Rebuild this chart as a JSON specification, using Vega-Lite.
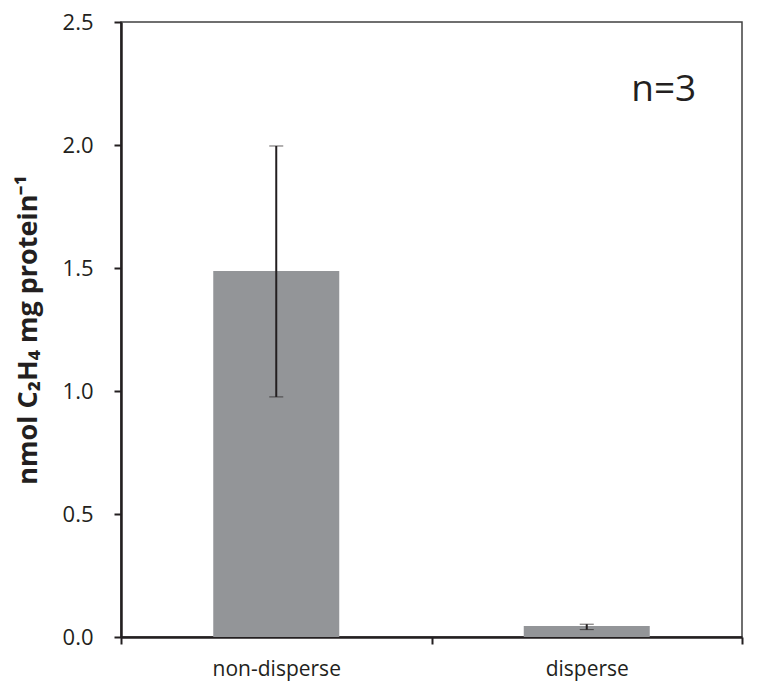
{
  "$schema": "https://vega.github.io/schema/vega-lite/v6.json",
  "autosize": "none",
  "width": 621,
  "height": 615,
  "padding": {"left": 121, "top": 22, "right": 17, "bottom": 61},
  "background": "white",
  "config": {
    "view": {"stroke": "#404040", "strokeWidth": 1.5},
    "font": "Open Sans",
    "axis": {
      "domainColor": "#231f20", "domainWidth": 2.5,
      "tickColor": "#231f20", "tickWidth": 2, "tickSize": 7,
      "labelColor": "#231f20", "labelFont": "Open Sans",
      "titleFontSize": 27, "titleFontWeight": "bold", "titleColor": "#231f20", "titleFont": "Open Sans",
      "grid": false
    }
  },
  "data": {
    "values": [
      {"group": "non-disperse", "value": 1.488, "low": 0.976, "high": 1.996},
      {"group": "disperse", "value": 0.045, "low": 0.03, "high": 0.052}
    ]
  },
  "encoding": {
    "x": {
      "field": "group", "type": "nominal", "sort": null, "title": null,
      "scale": {"paddingInner": 0, "paddingOuter": 0},
      "axis": {"labelAngle": 0, "tickBand": "extent", "labelPadding": 14, "labelFontSize": 21}
    }
  },
  "layer": [
    {
      "mark": {"type": "bar", "color": "#939598", "width": 126},
      "encoding": {
        "y": {
          "field": "value", "type": "quantitative",
          "title": "nmol C₂H₄ mg protein⁻¹",
          "scale": {"domain": [0, 2.5], "nice": false},
          "axis": {
            "titlePadding": 20,
            "values": [0, 0.5, 1, 1.5, 2, 2.5], "format": ".1f",
            "labelPadding": 21, "labelFontSize": 22
          }
        }
      }
    },
    {
      "mark": {"type": "errorbar", "ticks": {"size": 14, "color": "#231f20", "strokeWidth": 2}, "rule": {"color": "#231f20", "strokeWidth": 2}},
      "encoding": {
        "y": {"field": "low", "type": "quantitative", "title": "nmol C₂H₄ mg protein⁻¹"},
        "y2": {"field": "high"}
      }
    },
    {
      "data": {"values": [{"label": "n=3", "group": "disperse", "gy": 2.225}]},
      "mark": {"type": "text", "fontSize": 37, "color": "#231f20", "align": "center", "baseline": "middle", "dx": 77},
      "encoding": {
        "y": {"field": "gy", "type": "quantitative", "title": "nmol C₂H₄ mg protein⁻¹"},
        "text": {"field": "label"}
      }
    }
  ]
}
